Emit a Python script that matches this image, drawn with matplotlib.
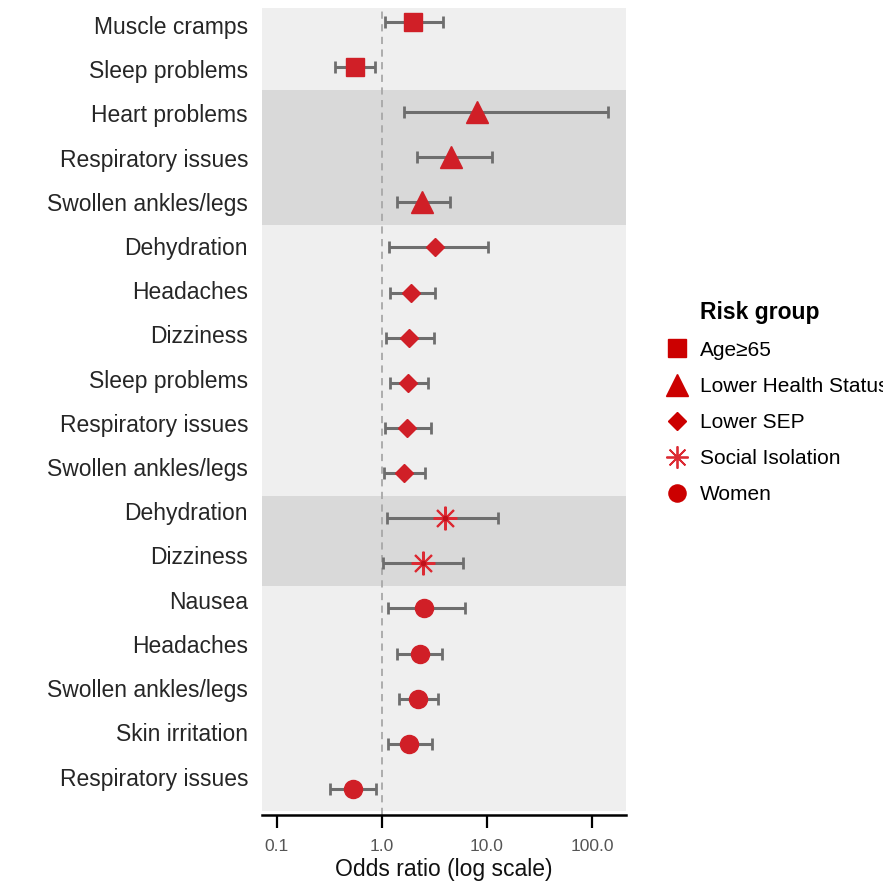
import numpy as np
import matplotlib.pyplot as plt
from matplotlib.lines import Line2D

plt.rcParams['font.family'] = ['Liberation Sans', 'DejaVu Sans']

labels = ["Muscle cramps", "Sleep problems",
          "Heart problems", "Respiratory issues", "Swollen ankles/legs",
          "Dehydration", "Headaches", "Dizziness", "Sleep problems",
          "Respiratory issues", "Swollen ankles/legs",
          "Dehydration", "Dizziness",
          "Nausea", "Headaches", "Swollen ankles/legs", "Skin irritation",
          "Respiratory issues"]
groups = ["Age≥65"] * 2 + ["Lower Health Status"] * 3 + ["Lower SEP"] * 6 \
    + ["Social Isolation"] * 2 + ["Women"] * 5
odds = [1.97, 0.55, 8.0, 4.54, 2.4, 3.2, 1.89, 1.81, 1.77, 1.73, 1.62,
        3.98, 2.46, 2.51, 2.30, 2.20, 1.81, 0.53]
ci_low = [1.07, 0.36, 1.62, 2.15, 1.39, 1.17, 1.19, 1.09, 1.19, 1.07, 1.04,
          1.12, 1.02, 1.14, 1.39, 1.45, 1.14, 0.32]
ci_high = [3.8, 0.86, 142, 11.2, 4.44, 10.2, 3.2, 3.13, 2.74, 2.93, 2.57,
           12.7, 5.9, 6.17, 3.72, 3.41, 2.99, 0.88]

group_names = ["Age≥65", "Lower Health Status", "Lower SEP",
               "Social Isolation", "Women"]
markers = {"Age≥65": ("s", 13), "Lower Health Status": ("^", 16),
           "Lower SEP": ("D", 9.5), "Social Isolation": ((8, 2, 0), 17),
           "Women": ("o", 13)}
band_colors = ["#efefef", "#d9d9d9", "#efefef", "#d9d9d9", "#efefef"]
red = "#d01f27"

fig = plt.figure(figsize=(8.83, 8.81), dpi=100)
ax = fig.add_axes([0.2967, 0.0749, 0.4122, 0.9161])

y = np.arange(len(labels))
odds = np.array(odds)
ci_low = np.array(ci_low)
ci_high = np.array(ci_high)

# shaded band behind each risk group
for g, col in zip(group_names, band_colors):
    idx = [i for i, gg in enumerate(groups) if gg == g]
    ax.axhspan(min(idx) - 0.5, max(idx) + 0.5, color=col, zorder=0, lw=0)

ax.axvline(1.0, color="#a8a8a8", ls=(0, (4, 3)), lw=1.3, zorder=1)

ax.errorbar(odds, y, xerr=[odds - ci_low, ci_high - odds], fmt="none",
            ecolor="#6e6e6e", elinewidth=2.2, capsize=4, capthick=2.0,
            zorder=2)

for g in group_names:
    idx = [i for i, gg in enumerate(groups) if gg == g]
    m, s = markers[g]
    if g == "Social Isolation":
        ax.plot(odds[idx], y[idx], ls="none", marker=m, ms=s,
                mec="#dc2a33", mew=1.5, zorder=3)
        ax.plot(odds[idx], y[idx], ls="none", marker="o", ms=3,
                color="#c0101a", zorder=4)
    else:
        ax.plot(odds[idx], y[idx], ls="none", marker=m, ms=s, color=red,
                mec=red, zorder=3)

ax.set_xscale("log")
ax.set_xlim(0.072, 211)
ax.set_ylim(17.58, -0.31)
ax.set_xticks([0.1, 1, 10, 100])
ax.set_xticklabels(["0.1", "1.0", "10.0", "100.0"])
ax.minorticks_off()
# row labels sit on a slightly tighter grid than the points
ax.set_yticks((3 + 44.2 * y) / 45.1)
ax.set_yticklabels(labels, fontsize=16.5, color="#262626")
ax.tick_params(axis="y", length=0, pad=10)
ax.tick_params(axis="x", length=9, width=1.6, colors="black",
               labelcolor="#555555", labelsize=12.5, pad=8)
for side in ["top", "right", "left"]:
    ax.spines[side].set_visible(False)
ax.spines["bottom"].set_linewidth(1.8)
ax.set_xlabel("Odds ratio (log scale)", fontsize=16.5, color="#111111",
              labelpad=3)

handles = []
for g in group_names:
    m, s = markers[g]
    if g == "Social Isolation":
        handles.append(Line2D([], [], ls="none", marker=m, ms=16,
                              mec="#dc2a33", mew=1.3))
    else:
        handles.append(Line2D([], [], ls="none", marker=m,
                              ms=s * 0.95, color="#cc0000"))
leg = fig.legend(handles, group_names, loc="center left",
                 bbox_to_anchor=(0.7335, 0.5205), frameon=False,
                 fontsize=15, handlelength=1.0, handletextpad=0.63,
                 labelspacing=0.82)
fig.text(700 / 883, 1 - 313 / 881, "Risk group", fontsize=16.5,
         fontweight="bold", va="center", ha="left", color="black")

fig.savefig("out.png", dpi=100)
